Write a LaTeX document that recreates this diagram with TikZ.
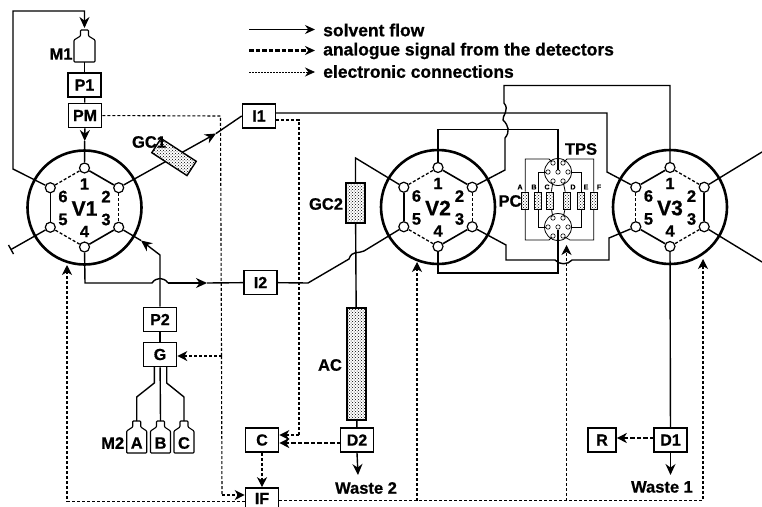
\documentclass[tikz,border=0pt]{standalone}
\usepackage{fontspec}
\setmainfont{Liberation Sans}[BoldFeatures={FakeBold=0.8}]
\usepackage{tikz}
\usetikzlibrary{arrows.meta,patterns}

\begin{document}
\begin{tikzpicture}[x=1pt,y=-1pt]

	% INPUTS:
	\newcommand{\valverad}{57};		% radius of the valve circle
	\newcommand{\hexrad}{39.5};		% radius of the port ring

	% styles
	\tikzstyle{solvent}=[line width=1.4pt];
	\tikzstyle{flowto}=[solvent,-{Stealth[length=11pt,width=10pt]}];
	\tikzstyle{analogue}=[line width=2.2pt,dash pattern=on 4.5pt off 2pt];
	\tikzstyle{analogueto}=[analogue,-{Stealth[length=10pt,width=10pt,inset=3pt]}];
	\tikzstyle{electronic}=[line width=1.1pt,dash pattern=on 3pt off 2pt];
	\tikzstyle{electronicto}=[electronic,-{Stealth[length=10pt,width=10pt,inset=3pt]}];
	\tikzstyle{hexline}=[line width=1.3pt,dash pattern=on 3pt off 2pt];
	\tikzstyle{box}=[draw,line width=1.6pt,fill=white,minimum width=33pt,minimum height=24pt,inner sep=0pt,font=\fontsize{16}{16}\bfseries\selectfont];
	\tikzstyle{port}=[draw,circle,line width=1.2pt,fill=white,minimum size=10pt,inner sep=0pt];
	\tikzstyle{tpsport}=[draw,circle,line width=.6pt,fill=white,minimum size=4.4pt,inner sep=0pt];
	\tikzstyle{packed}=[draw,line width=1.4pt,preaction={fill=white},pattern=crosshatch dots,inner sep=0pt];
	\tikzstyle{pccol}=[draw,line width=.8pt,preaction={fill=white},pattern=crosshatch dots,minimum width=7pt,minimum height=17pt,inner sep=0pt];
	\tikzstyle{tag}=[inner sep=0pt,font=\fontsize{16.5}{16.5}\bfseries\selectfont];
	\tikzstyle{pcname}=[inner sep=0pt,font=\fontsize{7}{7}\bfseries\selectfont];
	\tikzstyle{legendtext}=[inner sep=0pt,anchor=west,font=\fontsize{17.5}{17.5}\bfseries\selectfont];
	\tikzstyle{tpsline}=[line width=.8pt];

	% bottle outline, #1 = centre x, #2 = top y, #3 = half width, #4 = height
	\newcommand{\bottle}[4]{
		\draw[line width=1.1pt,fill=white,rounded corners=.8pt] (#1-4,#2) -- (#1+4,#2) -- (#1+4,#2+6) -- (#1+#3,#2+10) -- (#1+#3,#2+#4) -- (#1-#3,#2+#4) -- (#1-#3,#2+10) -- (#1-4,#2+6) -- cycle;
	}

	% page
	\useasboundingbox (0,0) rectangle (762,506);
	\clip (0,0) rectangle (762,506);

	% the three valves: circle, ports, numbers
	\foreach \vname/\vx/\vy in {V1/84.5/207.5, V2/438/207, V3/670/207}{
		\draw[line width=2.6pt] (\vx,\vy) circle (\valverad);
		\node[port] (\vname p1) at (\vx,\vy-\hexrad) {};
		\node[port] (\vname p2) at (\vx+34.2,\vy-19.75) {};
		\node[port] (\vname p3) at (\vx+34.2,\vy+19.75) {};
		\node[port] (\vname p4) at (\vx,\vy+\hexrad) {};
		\node[port] (\vname p5) at (\vx-34.2,\vy+19.75) {};
		\node[port] (\vname p6) at (\vx-34.2,\vy-19.75) {};
		\node[tag] (\vname n1) at (\vx,\vy-23.5) {1};
		\node[tag] (\vname n2) at (\vx+21.5,\vy-11) {2};
		\node[tag] (\vname n3) at (\vx+21.5,\vy+12) {3};
		\node[tag] (\vname n4) at (\vx,\vy+24) {4};
		\node[tag] (\vname n5) at (\vx-21.5,\vy+12) {5};
		\node[tag] (\vname n6) at (\vx-21.5,\vy-11) {6};
		\node[tag,font=\fontsize{21}{21}\bfseries\selectfont] (\vname name) at (\vx,\vy+1) {\vname};
	}

	% inner connections of the valves
	\foreach \from/\to in {V1p1/V1p2, V1p3/V1p4, V1p5/V1p6, V2p1/V2p2, V2p3/V2p4, V2p5/V2p6, V3p6/V3p1, V3p2/V3p3, V3p4/V3p5}
		\draw[line width=1.6pt] (\from) -- (\to);
	\foreach \from/\to in {V1p6/V1p1, V1p2/V1p3, V1p4/V1p5, V2p6/V2p1, V2p2/V2p3, V2p4/V2p5, V3p1/V3p2, V3p3/V3p4, V3p5/V3p6}
		\draw[hexline] (\from) -- (\to);

	% boxes
	\node[box] (P1) at (84.5,85) {P1};
	\node[box] (PM) at (85,115.5) {PM};
	\node[box] (I1) at (259,116) {I1};
	\node[box] (I2) at (260.5,282.5) {I2};
	\node[box] (P2) at (160,319.5) {P2};
	\node[box] (G) at (160,354.5) {G};
	\node[box] (C) at (262,440) {C};
	\node[box,minimum height=21pt] (IF) at (262,498.5) {IF};
	\node[box] (D2) at (357,440) {D2};
	\node[box] (D1) at (670.5,440) {D1};
	\node[box,minimum width=28pt] (R) at (602,440) {R};

	% columns
	\node[packed,minimum width=19pt,minimum height=40pt] (GC2) at (355.5,203) {};
	\node[packed,minimum width=19pt,minimum height=112pt] (AC) at (356.5,364) {};

	% bottles
	\bottle{84.5}{30}{10.5}{32}
	\bottle{136.7}{421}{10}{32}
	\bottle{160.5}{421}{10}{32}
	\bottle{184}{421}{10}{32}
	\coordinate (M1top) at (84.5,30);
	\coordinate (M1bot) at (84.5,62);
	\coordinate (Atop) at (136.7,421);
	\coordinate (Btop) at (160.5,421);
	\coordinate (Ctop) at (184,421);

	% solvent from V1 back round to M1
	\coordinate (a1) at (13,169);
	\coordinate (a2) at (13,11);
	\coordinate (a3) at (84.5,11);
	\draw[flowto,shorten >=2pt] (V1p6) -- (a1) -- (a2) -- (a3) -- (M1top);
	\draw[solvent] (M1bot) -- (P1);
	\draw[solvent] (P1) -- (PM);
	\coordinate (a4) at (84.7,141);
	\draw[flowto] (PM) -- (a4);
	\draw[solvent] (a4) -- (V1p1);

	% GC1 and I1
	\coordinate (b1) at (216,133.5);
	\draw[flowto] (V1p2) -- (b1);
	\draw[solvent] (b1) -- (I1.west);
	\node[packed,minimum width=42pt,minimum height=17pt,rotate=-33] (GC1) at (174,157) {};
	\coordinate (b2) at (607,113);
	\coordinate (b3) at (607,172);
	\coordinate (b4) at (275.5,113);
	\draw[solvent] (b4) -- (b2) -- (b3) -- (V3p6);

	% blocked port
	\coordinate (c1) at (11,249.5);
	\coordinate (c2) at (8.5,245);
	\coordinate (c3) at (13.5,254);
	\draw[solvent] (V1p5) -- (c1);
	\draw[solvent] (c2) -- (c3);

	% P2 to V1 port 3
	\coordinate (d1) at (160,255);
	\coordinate (d2) at (141,240.5);
	\draw[flowto] (P2) -- (d1) -- (d2);
	\draw[solvent] (d2) -- (V1p3);

	% V1 port 4 to I2 to V2 port 5
	\coordinate (e1) at (85,283);
	\coordinate (e2) at (152,283);
	\coordinate (e3) at (168,283);
	\coordinate (e4) at (207,283);
	\draw[solvent] (V1p4) -- (e1) -- (e2) .. controls (156,277) and (164,277) .. (e3);
	\draw[flowto] (e3) -- (e4);
	\draw[solvent] (e4) -- (I2);
	\coordinate (f1) at (308,283);
	\coordinate (f2) at (349,259);
	\coordinate (f3) at (364,251);
	\draw[solvent] (I2) -- (f1) -- (f2) .. controls (352,250) and (358,254) .. (f3) -- (V2p5);

	% V2 port 6 through GC2, AC and D2 to waste
	\coordinate (g1) at (355.5,158);
	\draw[solvent] (V2p6) -- (g1) -- (GC2);
	\draw[solvent] (GC2) -- (AC);
	\draw[solvent] (AC) -- (D2);
	\coordinate (w2) at (358,475);
	\draw[flowto] (D2.south) -- (w2);

	% gradient mixer and bottles
	\draw[solvent] (P2) -- (G);
	\coordinate (h1) at (154.3,367);
	\coordinate (h2) at (154.3,383);
	\coordinate (h3) at (136.7,397);
	\coordinate (h4) at (166.7,367);
	\coordinate (h5) at (166.7,383);
	\coordinate (h6) at (184,397);
	\draw[solvent] (h1) -- (h2) -- (h3) -- (Atop);
	\draw[solvent] (G) -- (Btop);
	\draw[solvent] (h4) -- (h5) -- (h6) -- (Ctop);

	% V2 port 2 wavy line to V3 port 1
	\coordinate (k1) at (505,170);
	\coordinate (k2) at (505,138);
	\coordinate (k3) at (503,120);
	\coordinate (k4) at (504,103);
	\coordinate (k5) at (504,85.5);
	\coordinate (k6) at (670,85.5);
	\draw[solvent] (V2p2) -- (k1) -- (k2) .. controls (510,132) and (509,126) .. (k3) .. controls (502,116) and (510,110) .. (k4) -- (k5) -- (k6) -- (V3p1);

	% V2 port 3 to V3 port 5
	\coordinate (n1) at (506,245);
	\coordinate (n2) at (506,260);
	\coordinate (n3) at (555,260);
	\coordinate (n4) at (572,260);
	\coordinate (n5) at (609,260);
	\coordinate (n6) at (609,238);
	\draw[solvent] (V2p3) -- (n1) -- (n2) -- (n3) .. controls (559,265) and (568,265) .. (n4) -- (n5) -- (n6) -- (V3p5);

	% V3 outlets
	\coordinate (r1) at (762,152);
	\coordinate (r2) at (762,262);
	\coordinate (w1) at (670.5,475);
	\draw[solvent] (V3p2) -- (r1);
	\draw[solvent] (V3p3) -- (r2);
	\draw[solvent] (V3p4) -- (D1);
	\draw[flowto] (D1.south) -- (w1);

	% TPS selector: two rotors, six columns
	\foreach \tname/\ty in {TU/172, TL/227}{
		\draw[line width=.8pt,fill=white] (558,\ty) circle (13.5);
		\node[tpsport] (\tname a) at (553,\ty-9) {};
		\node[tpsport] (\tname b) at (563,\ty-9) {};
		\node[tpsport] (\tname c) at (548,\ty) {};
		\node[tpsport] (\tname d) at (558,\ty) {};
		\node[tpsport] (\tname e) at (568,\ty) {};
		\node[tpsport] (\tname f) at (553,\ty+9) {};
		\node[tpsport] (\tname g) at (563,\ty+9) {};
	}
	\foreach \cname/\cx/\lx in {A/525.3/520, B/538/534, C/550/547, D/567/573, E/581/586, F/593.7/599}{
		\node[pccol] (pc\cname) at (\cx,200.5) {};
		\node[pcname] (lab\cname) at (\lx,187) {\cname};
	}
	\coordinate (q1) at (525.3,159);
	\coordinate (q2) at (549,159);
	\coordinate (q3) at (567,159);
	\coordinate (q4) at (593.7,159);
	\coordinate (q5) at (525.3,240);
	\coordinate (q6) at (549,240);
	\coordinate (q7) at (570,240);
	\coordinate (q8) at (593.7,240);
	\coordinate (q9) at (538,172);
	\coordinate (q10) at (581,172);
	\coordinate (q11) at (538,227);
	\coordinate (q12) at (581,227);
	\draw[tpsline] (TUa) -- (q2) -- (q1) -- (pcA);
	\draw[tpsline] (TUb) -- (q3) -- (q4) -- (pcF);
	\draw[tpsline] (TUc) -- (q9) -- (pcB);
	\draw[tpsline] (TUe) -- (q10) -- (pcE);
	\draw[tpsline] (TUf) -- (pcC);
	\draw[tpsline] (TUg) -- (pcD);
	\draw[tpsline] (TLf) -- (q6) -- (q5) -- (pcA);
	\draw[tpsline] (TLg) -- (q7) -- (q8) -- (pcF);
	\draw[tpsline] (TLc) -- (q11) -- (pcB);
	\draw[tpsline] (TLe) -- (q12) -- (pcE);
	\draw[tpsline] (TLa) -- (pcC);
	\draw[tpsline] (TLb) -- (pcD);

	% V2 port 1 and 4 to TPS
	\coordinate (m1) at (438,129.5);
	\coordinate (m2) at (558,129.5);
	\coordinate (m3) at (438,273);
	\coordinate (m4) at (558,273);
	\draw[solvent] (V2p1) -- (m1) -- (m2) -- (TUd);
	\draw[solvent] (V2p4) -- (m3) -- (m4) -- (TLd);

	% analogue signals
	\coordinate (v1) at (341,443);
	\coordinate (v2) at (654,438);
	\draw[analogueto] (v1) -- (C.east |- v1);
	\draw[analogueto] (v2) -- (R.east |- v2);

	% electronic connections
	\coordinate (s1) at (220.5,116);
	\coordinate (s2) at (221.5,356);
	\coordinate (s3) at (222,495);
	\draw[electronic] (PM) -- (s1) -- (s2);
	\draw[electronic] (s2) -- (s3);
	\draw[electronicto] (s3) -- (IF.west |- s3);
	\draw[electronicto] (s2) -- (G.east |- s2);
	\coordinate (t1) at (299,120);
	\coordinate (t2) at (299,435);
	\draw[electronic] (I1.east |- t1) -- (t1) -- (t2);
	\draw[electronicto] (t2) -- (C.east |- t2);
	\draw[electronicto] (C) -- (IF);
	\coordinate (u1) at (67,501.5);
	\coordinate (u2) at (67,265);
	\coordinate (u3) at (703,500.5);
	\coordinate (u4) at (703,259);
	\coordinate (u5) at (417,500.5);
	\coordinate (u6) at (417,262);
	\coordinate (u7) at (566.5,500.5);
	\coordinate (u8) at (566.5,245);
	\draw[electronicto] (IF.west |- u1) -- (u1) -- (u2);
	\draw[electronicto] (IF.east |- u3) -- (u3) -- (u4);
	\draw[electronicto] (u5) -- (u6);
	\draw[electronicto] (u7) -- (u8);

	% labels
	\node[tag] (labM1) at (61,54) {M1};
	\node[tag] (labGC1) at (149,142) {GC1};
	\node[tag] (labGC2) at (326,204) {GC2};
	\node[tag] (labAC) at (330,365) {AC};
	\node[tag] (labTPS) at (581,149) {TPS};
	\node[tag] (labPC) at (510,201) {PC};
	\node[tag] (labM2) at (112.7,443) {M2};
	\node[tag] (bottleA) at (136.7,443) {A};
	\node[tag] (bottleB) at (160.5,443) {B};
	\node[tag] (bottleC) at (184,443) {C};
	\node[tag] (waste2) at (366,488) {Waste 2};
	\node[tag] (waste1) at (662,487) {Waste 1};

	% legend
	\coordinate (l1) at (249,29.5);
	\coordinate (l2) at (315,29.5);
	\coordinate (l3) at (249,50.5);
	\coordinate (l4) at (315,50.5);
	\coordinate (l5) at (249,72);
	\coordinate (l6) at (315,72);
	\draw[solvent,-{Stealth[length=10pt,width=9pt]}] (l1) -- (l2);
	\draw[analogue,-{Stealth[length=10pt,width=9pt]}] (l3) -- (l4);
	\draw[line width=.8pt,dash pattern=on 1.5pt off 1.5pt,-{Stealth[length=10pt,width=9pt]}] (l5) -- (l6);
	\node[legendtext] (leg1) at (323,30) {solvent flow};
	\node[legendtext] (leg2) at (323,51) {analogue signal from the detectors};
	\node[legendtext] (leg3) at (323,71.5) {electronic connections};

\end{tikzpicture}
\end{document}
